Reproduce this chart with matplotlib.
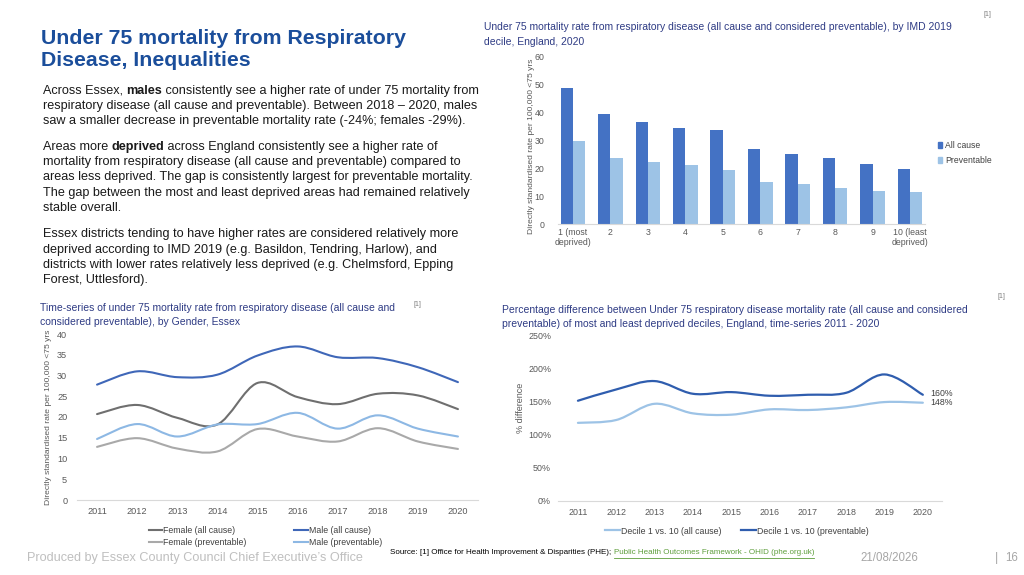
import matplotlib
matplotlib.use('Agg')
import matplotlib.pyplot as plt
from matplotlib.path import Path
from matplotlib.patches import PathPatch, Patch
from matplotlib.lines import Line2D
from matplotlib.ticker import FuncFormatter
import numpy as np

plt.rcParams['font.family'] = ['Liberation Sans', 'DejaVu Sans']

# ---------------- data ----------------
deciles = ['1 (most\ndeprived)', '2', '3', '4', '5', '6', '7', '8', '9', '10 (least\ndeprived)']
imd_all_cause = [49.0, 39.6, 36.6, 34.6, 33.7, 26.9, 25.0, 23.7, 21.6, 19.6]
imd_preventable = [29.8, 23.6, 22.3, 21.3, 19.3, 15.2, 14.4, 13.1, 11.9, 11.4]

years = [2011, 2012, 2013, 2014, 2015, 2016, 2017, 2018, 2019, 2020]
female_all_cause = [20.7, 22.9, 19.8, 18.2, 28.2, 24.8, 23.1, 25.6, 25.2, 21.9]
male_all_cause = [27.8, 31.0, 29.6, 30.2, 34.8, 37.0, 34.4, 34.2, 32.0, 28.4]
female_preventable = [12.8, 14.9, 12.4, 11.7, 17.1, 15.3, 14.1, 17.3, 14.1, 12.3]
male_preventable = [14.7, 18.3, 15.3, 18.2, 18.3, 21.0, 17.2, 20.4, 17.2, 15.3]

gap_all_cause = [117.7, 122.0, 146.4, 132.0, 130.0, 138.0, 137.0, 141.0, 149.0, 148.0]
gap_preventable = [151.0, 168.0, 180.6, 161.5, 164.0, 158.5, 160.0, 163.0, 190.6, 160.0]

# ---------------- layout helpers ----------------
W, H = 1024, 575
fig = plt.figure(figsize=(W / 100, H / 100), dpi=100)
renderer = fig.canvas.get_renderer()


def rect(x0, y0, x1, y1):
    return [x0 / W, 1 - y1 / H, (x1 - x0) / W, (y1 - y0) / H]


def fx(x):
    return x / W


def fy(y):
    return 1 - y / H


def twidth(s, **kw):
    t = fig.text(0, 0, '|' + s + '|', **kw)
    w1 = t.get_window_extent(renderer).width
    t.set_text('||')
    w2 = t.get_window_extent(renderer).width
    t.remove()
    return w1 - w2


def rich_line(x, y, segments, **kw):
    for s, wt in segments:
        fig.text(fx(x), fy(y), s, weight=wt, va='center', ha='left', **kw)
        x += twidth(s, weight=wt, **kw)
    return x


def smooth_path(xs, ys):
    xs = np.asarray(xs, float)
    ys = np.asarray(ys, float)
    n = len(xs)
    verts = [(xs[0], ys[0])]
    codes = [Path.MOVETO]
    for i in range(n - 1):
        i0, i3 = max(i - 1, 0), min(i + 2, n - 1)
        c1 = (xs[i] + (xs[i + 1] - xs[i0]) / 6, ys[i] + (ys[i + 1] - ys[i0]) / 6)
        c2 = (xs[i + 1] - (xs[i3] - xs[i]) / 6, ys[i + 1] - (ys[i3] - ys[i]) / 6)
        verts += [c1, c2, (xs[i + 1], ys[i + 1])]
        codes += [Path.CURVE4] * 3
    return Path(verts, codes)


def style_axes(ax, size=6.3):
    for s in ['top', 'right', 'left']:
        ax.spines[s].set_visible(False)
    ax.spines['bottom'].set_color('#D9D9D9')
    ax.spines['bottom'].set_linewidth(0.8)
    ax.tick_params(length=0, colors='#595959', labelsize=size)
    ax.set_facecolor('none')


TITLE_BLUE = '#1B4E9B'
CHART_TITLE = '#2E3B84'
TEXT = '#1a1a1a'
CT_SIZE = 7.5

# ---------------- main title & body ----------------
fig.text(fx(41), fy(38), 'Under 75 mortality from Respiratory', fontsize=15.3,
         weight='bold', color=TITLE_BLUE, va='center')
fig.text(fx(41), fy(61), 'Disease, Inequalities', fontsize=15.3,
         weight='bold', color=TITLE_BLUE, va='center')

body = [
    (90.7, [('Across Essex, ', 'normal'), ('males', 'bold'),
            (' consistently see a higher rate of under 75 mortality from', 'normal')]),
    (105.7, [('respiratory disease (all cause and preventable). Between 2018 \u2013 2020, males', 'normal')]),
    (120.7, [('saw a smaller decrease in preventable mortality rate (-24%; females -29%).', 'normal')]),
    (147.3, [('Areas more ', 'normal'), ('deprived', 'bold'),
             (' across England consistently see a higher rate of', 'normal')]),
    (162.3, [('mortality from respiratory disease (all cause and preventable) compared to', 'normal')]),
    (177.3, [('areas less deprived. The gap is consistently largest for preventable mortality.', 'normal')]),
    (192.7, [('The gap between the most and least deprived areas had remained relatively', 'normal')]),
    (207.7, [('stable overall.', 'normal')]),
    (234.3, [('Essex districts tending to have higher rates are considered relatively more', 'normal')]),
    (249.7, [('deprived according to IMD 2019 (e.g. Basildon, Tendring, Harlow), and', 'normal')]),
    (265.0, [('districts with lower rates relatively less deprived (e.g. Chelmsford, Epping', 'normal')]),
    (280.0, [('Forest, Uttlesford).', 'normal')]),
]
for y, segs in body:
    rich_line(43, y, segs, fontsize=9.1, color=TEXT)

# ---------------- top-right bar chart ----------------
fig.text(fx(484), fy(27), 'Under 75 mortality rate from respiratory disease (all cause and considered preventable), by IMD 2019',
         fontsize=CT_SIZE, color=CHART_TITLE, va='center')
fig.text(fx(484), fy(42), 'decile, England, 2020', fontsize=CT_SIZE, color=CHART_TITLE, va='center')
fig.text(fx(983), fy(14), '[1]', fontsize=5, color='#7F7F7F', va='center')

ax1 = fig.add_axes(rect(558, 57, 925, 224))
style_axes(ax1)
x = np.arange(len(deciles))
bw = 0.33
ax1.bar(x - bw / 2, imd_all_cause, bw, color='#4472C4', label='All cause')
ax1.bar(x + bw / 2, imd_preventable, bw, color='#9DC3E6', label='Preventable')
ax1.set_xlim(-0.4, 9.4)
ax1.set_ylim(0, 60)
ax1.set_yticks(range(0, 61, 10))
ax1.set_xticks(x)
ax1.set_xticklabels(deciles, linespacing=1.1)
ax1.tick_params(axis='y', pad=10)
ax1.tick_params(axis='x', pad=3)
ax1.set_ylabel('Directly standardised rate per 100,000 <75 yrs', fontsize=6.1,
               color='#595959')
ax1.yaxis.set_label_coords(-0.064, 0.465)
ax1.legend(handles=[Patch(color='#4472C4'), Patch(color='#9DC3E6')],
           labels=['All cause', 'Preventable'], loc='center left',
           bbox_to_anchor=(fx(930), fy(153)), bbox_transform=fig.transFigure,
           frameon=False, fontsize=6.2, handlelength=0.55, handleheight=0.55,
           handletextpad=0.3, labelspacing=0.7, labelcolor='#404040')

# ---------------- bottom-left line chart ----------------
fig.text(fx(40), fy(308), 'Time-series of under 75 mortality rate from respiratory disease (all cause and',
         fontsize=CT_SIZE, color=CHART_TITLE, va='center')
fig.text(fx(40), fy(322), 'considered preventable), by Gender, Essex',
         fontsize=CT_SIZE, color=CHART_TITLE, va='center')
fig.text(fx(413), fy(304), '[1]', fontsize=5, color='#7F7F7F', va='center')

ax2 = fig.add_axes(rect(77, 334, 478, 500))
style_axes(ax2, 6.6)
series2 = [
    (female_all_cause, '#6F6F6F', 'Female (all cause)'),
    (female_preventable, '#A9A9A9', 'Female (preventable)'),
    (male_all_cause, '#3F67B8', 'Male (all cause)'),
    (male_preventable, '#8DB8E4', 'Male (preventable)'),
]
for vals, col, lab in series2:
    ax2.add_patch(PathPatch(smooth_path(years, vals), fill=False, edgecolor=col,
                            lw=1.5, capstyle='round', joinstyle='round'))
ax2.set_xlim(2010.5, 2020.5)
ax2.set_ylim(0, 40)
ax2.set_xticks(years)
ax2.set_yticks(range(0, 41, 5))
ax2.tick_params(axis='y', pad=7)
ax2.tick_params(axis='x', pad=5)
ax2.set_ylabel('Directly standardised rate per 100,000 <75 yrs', fontsize=6.1,
               color='#595959')
ax2.yaxis.set_label_coords(-0.062, 0.5)
ax2.legend(handles=[Line2D([], [], color=c, lw=1.5) for _, c, _ in series2],
           labels=[l for _, _, l in series2], ncol=2, loc='upper left',
           bbox_to_anchor=(fx(141), fy(518)), bbox_transform=fig.transFigure,
           frameon=False, fontsize=6.3, handlelength=1.55, handletextpad=0.1,
           columnspacing=5.45, labelspacing=0.4, labelcolor='#404040')

# ---------------- bottom-right line chart ----------------
fig.text(fx(502), fy(310), 'Percentage difference between Under 75 respiratory disease mortality rate (all cause and considered',
         fontsize=CT_SIZE, color=CHART_TITLE, va='center')
fig.text(fx(502), fy(324), 'preventable) of most and least deprived deciles, England, time-series 2011 - 2020',
         fontsize=CT_SIZE, color=CHART_TITLE, va='center')
fig.text(fx(998), fy(297), '[1]', fontsize=5, color='#7F7F7F', va='center')

ax3 = fig.add_axes(rect(558, 335, 942, 501))
style_axes(ax3, 6.4)
series3 = [
    (gap_all_cause, '#9DC3E6', 'Decile 1 vs. 10 (all cause)'),
    (gap_preventable, '#2F5DAE', 'Decile 1 vs. 10 (preventable)'),
]
for vals, col, lab in series3:
    ax3.add_patch(PathPatch(smooth_path(years, vals), fill=False, edgecolor=col,
                            lw=1.6, capstyle='round', joinstyle='round'))
ax3.set_xlim(2010.48, 2020.5)
ax3.set_ylim(0, 250)
ax3.set_xticks(years)
ax3.set_yticks(range(0, 251, 50))
ax3.yaxis.set_major_formatter(FuncFormatter(lambda v, p: f'{v:.0f}%'))
ax3.tick_params(axis='y', pad=5)
ax3.tick_params(axis='x', pad=5)
ax3.set_ylabel('% difference', fontsize=6.5, color='#595959')
ax3.yaxis.set_label_coords(-0.086, 0.56)
ax3.annotate(f'{gap_preventable[-1]:.0f}%', (years[-1], gap_preventable[-1]),
             xytext=(5, 1), textcoords='offset points', fontsize=6.3, color='#404040',
             va='center')
ax3.annotate(f'{gap_all_cause[-1]:.0f}%', (years[-1], gap_all_cause[-1]),
             xytext=(5, 0), textcoords='offset points', fontsize=6.3, color='#404040',
             va='center')
ax3.legend(handles=[Line2D([], [], color=c, lw=1.6) for _, c, _ in series3],
           labels=[l for _, _, l in series3], ncol=2, loc='center left',
           bbox_to_anchor=(fx(597), fy(531)), bbox_transform=fig.transFigure,
           frameon=False, fontsize=6.3, handlelength=1.7, handletextpad=0.15,
           columnspacing=2.2, labelcolor='#404040')

# ---------------- footer ----------------
fig.text(fx(27), fy(558), "Produced by Essex County Council Chief Executive\u2019s Office",
         fontsize=9.1, color='#BFBFBF', va='center')
src_txt = 'Source: [1] Office for Health Improvement & Disparities (PHE); '
link_txt = 'Public Health Outcomes Framework - OHID (phe.org.uk)'
fig.text(fx(390), fy(553), src_txt, fontsize=5.8, color='black', va='center')
sx = 390 + twidth(src_txt, fontsize=5.8)
fig.text(fx(sx), fy(553), link_txt, fontsize=5.8, color='#5E9E3C', va='center')
lw_ = twidth(link_txt, fontsize=5.8)
fig.add_artist(Line2D([fx(sx), fx(sx + lw_)], [fy(557.5), fy(557.5)],
                      transform=fig.transFigure, color='#5E9E3C', lw=0.6))
fig.text(fx(860), fy(558), '21/08/2026', fontsize=8.3, color='#A6A6A6', va='center')
fig.text(fx(995), fy(558), '|', fontsize=9, color='#A6A6A6', va='center')
fig.text(fx(1005), fy(558), '16', fontsize=8.3, color='#A6A6A6', va='center')

fig.savefig('out.png', dpi=100)
